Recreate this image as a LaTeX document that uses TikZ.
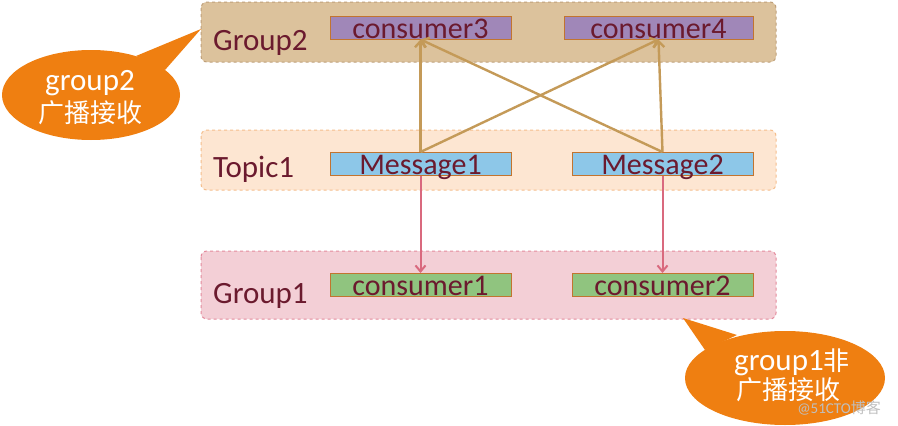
\documentclass[tikz,border=0pt]{standalone}
\usepackage{fontspec}
\setmainfont{Carlito}
\newfontfamily\cjk{Noto Sans CJK SC}
\usetikzlibrary{arrows.meta}
\definecolor{txt}{HTML}{6B1A2E}
\definecolor{gtwo}{HTML}{DCC29C}
\definecolor{gtwoB}{HTML}{BFA07A}
\definecolor{topf}{HTML}{FDE6D2}
\definecolor{topB}{HTML}{F5BE8C}
\definecolor{gonef}{HTML}{F3CFD6}
\definecolor{goneB}{HTML}{E48A9C}
\definecolor{purp}{HTML}{A087B8}
\definecolor{blu}{HTML}{8DC7E8}
\definecolor{grn}{HTML}{90C47F}
\definecolor{bord}{HTML}{C2742F}
\definecolor{tanA}{HTML}{C49A58}
\definecolor{pinkA}{HTML}{D9697E}
\definecolor{orng}{HTML}{EF7F11}
\tikzset{
  grp/.style={rounded corners=6pt, dashed, line width=1pt},
  itembox/.style={draw=bord, line width=1pt, inner sep=0pt, minimum height=23pt, text height=21pt, text depth=0pt, text=txt, font=\fontsize{30}{30}\selectfont},
  glabel/.style={anchor=base west, inner sep=0pt, text=txt, font=\fontsize{31}{31}\selectfont},
  tanarrow/.style={draw=tanA, line width=2.4pt, -{Straight Barb[length=6pt,width=11pt,line width=2.4pt]}},
  pinkarrow/.style={draw=pinkA, line width=2pt, -{Straight Barb[length=6pt,width=10pt,line width=2pt]}},
  calltext/.style={text=white, align=center, inner sep=0pt},
}
\begin{document}
\begin{tikzpicture}[x=1pt,y=-1pt]
\useasboundingbox (0,0) rectangle (898,426);
% group boxes
\draw[grp, fill=gtwo, draw=gtwoB] (201,2) rectangle (776,62);
\draw[grp, fill=topf, draw=topB] (201,130) rectangle (776,190);
\draw[grp, fill=gonef, draw=goneB] (201,251) rectangle (776,319);
% labels
\node[glabel] (lg2) at (213,50) {Group2};
\node[glabel] (lt1) at (213,177) {Topic1};
\node[glabel] (lg1) at (213,303) {Group1};
% items
\node[itembox, fill=purp, minimum width=181pt] (c3) at (420.5,27.5) {consumer3};
\node[itembox, fill=purp, minimum width=189pt] (c4) at (658.5,27.5) {consumer4};
\node[itembox, fill=blu, minimum width=181pt] (m1) at (420.5,164) {Message1};
\node[itembox, fill=blu, minimum width=181pt] (m2) at (662.5,164) {Message2};
\node[itembox, fill=grn, minimum width=181pt] (c1) at (420.5,285) {consumer1};
\node[itembox, fill=grn, minimum width=181pt] (c2) at (662.5,285) {consumer2};
% arrows
\draw[tanarrow] (m1.north) -- (c3.south);
\draw[tanarrow] (m1.north) -- (c4.south);
\draw[tanarrow] (m2.north) -- (c4.south);
\draw[tanarrow] (m2.north) -- (c3.south);
\draw[pinkarrow] (m1.south) -- (c1.north);
\draw[pinkarrow] (m2.south) -- (c2.north);
% callout 1
\fill[orng] (91,95) ellipse [x radius=89, y radius=45];
\fill[orng] (136,56) -- (201,29) -- (165,70) -- cycle;
\node[calltext, font=\fontsize{31}{31}\selectfont] (t2a) at (90,83) {group2};
\node[calltext, font=\cjk\fontsize{26}{26}\selectfont] (t2b) at (90,113) {广播接收};
% callout 2
\fill[orng] (785,378) ellipse [x radius=100, y radius=47];
\fill[orng] (705,350) -- (683,318) -- (737,335) -- cycle;
\node[calltext, font=\fontsize{31}{31}\selectfont] (t1a) at (792,362) {group1{\cjk\fontsize{26}{26}\selectfont 非}};
\node[calltext, font=\cjk\fontsize{26}{26}\selectfont] (t1b) at (788,390) {广播接收};
% watermark
\node[inner sep=0pt, text=gray!50, font=\fontsize{15}{15}\selectfont] (wm) at (839,408) {@51CTO{\cjk 博客}};
\end{tikzpicture}
\end{document}
